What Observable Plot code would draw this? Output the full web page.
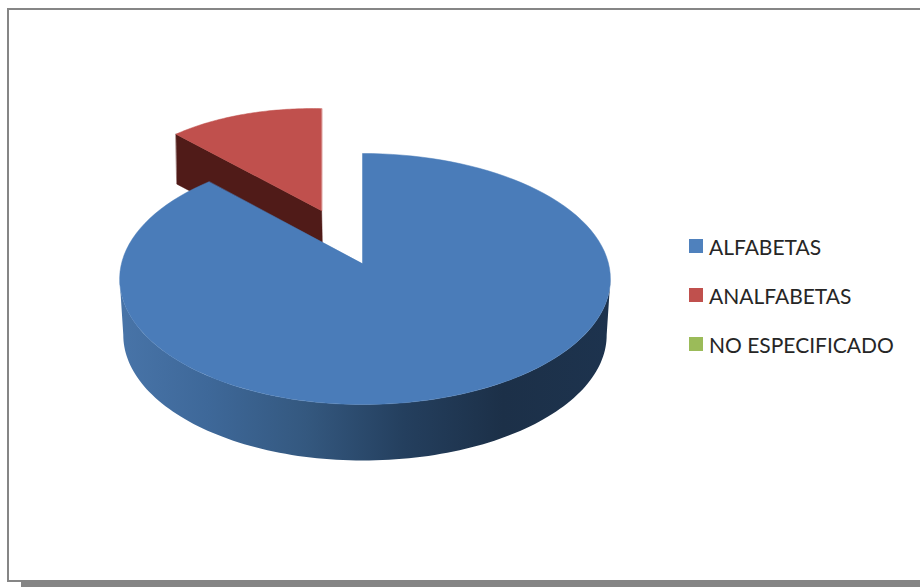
<!DOCTYPE html>
<html>
<head>
<meta charset="utf-8">
<script src="https://cdn.jsdelivr.net/npm/d3@7"></script>
<script src="https://cdn.jsdelivr.net/npm/@observablehq/plot@0.6"></script>
<style>
html,body{margin:0;padding:0;background:#fff;width:920px;height:587px;overflow:hidden}
#wrap{position:relative;width:920px;height:587px}
#wrap svg{position:absolute;left:0;top:0}
#frame{position:absolute;left:7px;top:8px;width:920px;height:570px;border-left:2px solid #868686;border-top:2px solid #868686;border-bottom:2px solid #868686;box-sizing:content-box}
#shadow{position:absolute;left:21px;top:580px;width:899px;height:7px;background:#858585}
.lg{position:absolute;left:689px;display:flex;align-items:center;font:21px Lato,sans-serif;color:#262626;height:24px;white-space:nowrap}
.lg i{display:block;width:14px;height:14px;margin-right:6px}
</style>
</head>
<body>
<div id="wrap"><div id="frame"></div><div id="shadow"></div></div>
<script>
const categories = ["ALFABETAS", "ANALFABETAS", "NO ESPECIFICADO"];
const shares = [87.8, 12.2, 0];
const colors = ["#4a7cb9", "#c0504d", "#9bbb59"];
const legendColors = ["#4f81bd", "#c0504d", "#9bbb59"];
const wallOffsets = ["0%", "18%", "38%", "58%", "78%", "100%"];
const wallColors = ["#4874a8", "#3e6899", "#34587f", "#243f5e", "#1c3048", "#1d334e"];
const legendTops = [234, 283, 332];

// perspective view of the pie's unit circle
const view = {x0: 362, y0: 263, aLeft: 241, aRight: 246, b: 123.6, k: 0.1236, depth: 56, shrink: 0.985};
// the exploded slice sits further back: its own flatter view
const redView = {x0: 359.4, y0: 256.2, a: 210, b: 102, tilt: 4.3, explode: 0.487, depth: 50};

function project(u, v, drop = 0) {
  const s = 1 / (1 - view.k * v);
  const f = drop ? view.shrink : 1;
  const a = u < 0 ? view.aLeft : view.aRight;
  return {x: view.x0 + f * a * u * s, y: view.y0 + view.b * v * s + drop};
}
const unit = deg => { const t = deg * Math.PI / 180; return [Math.sin(t), -Math.cos(t)]; };
const rim = (deg, drop = 0) => { const [u, v] = unit(deg); return project(u, v, drop); };
const total = d3.sum(shares);
const startEnd = [];
shares.reduce((acc, s) => { const e = acc + s / total * 360; startEnd.push([acc, e]); return e; }, 0);
const arc = (a0, a1, drop) => d3.range(0, 121).map(i => rim(a0 + (a1 - a0) * i / 120, drop));

// blue slice
const [b0, b1] = startEnd[0];
const blueTop = [project(0, 0), ...arc(b0, b1, 0)];
const wall = [...arc(97, 263, 0), ...arc(263, 97, view.depth)];

// exploded red slice
const [r0, r1] = startEnd[1];
const [mu, mv] = unit((r0 + r1) / 2);
const du = redView.explode * mu, dv = redView.explode * mv;
const redPoint = (u, v) => ({
  x: redView.x0 + redView.a * (du + u),
  y: redView.y0 + redView.b * (dv + v) + redView.tilt * u
});
const redApex = redPoint(0, 0);
const redArc = d3.range(0, 61).map(i => redPoint(...unit(r0 + (r1 - r0) * i / 60)));
const redTop = [redApex, ...redArc];
const redLeft = redArc[0];
const drop = p => ({x: p.x + 1, y: p.y + redView.depth});
const redFace = [redLeft, redApex, drop(redApex), drop(redLeft)];

const poly = (pts, fill) => Plot.line(pts, {x: "x", y: "y", fill, stroke: fill, strokeWidth: 0.5, curve: "linear-closed"});

const defs = () => {
  const d = d3.create("svg:defs");
  const g = d.append("linearGradient").attr("id", "wallShade");
  wallOffsets.forEach((o, i) => g.append("stop").attr("offset", o).attr("stop-color", wallColors[i]));
  return d.node();
};

const chart = Plot.plot({
  width: 920, height: 587,
  margin: 0,
  x: {domain: [0, 920], range: [0, 920], axis: null},
  y: {domain: [0, 587], range: [0, 587], axis: null},
  style: {background: "transparent"},
  marks: [
    defs,
    poly(redFace, "#501b18"),
    poly(redTop, colors[1]),
    Plot.line(wall, {x: "x", y: "y", fill: "url(#wallShade)", stroke: "none", curve: "linear-closed"}),
    poly(blueTop, colors[0])
  ]
});
const wrap = document.getElementById("wrap");
wrap.appendChild(chart);
categories.forEach((c, i) => {
  const row = document.createElement("div");
  row.className = "lg";
  row.style.top = legendTops[i] + "px";
  const sw = document.createElement("i");
  sw.style.background = legendColors[i];
  row.appendChild(sw);
  row.appendChild(document.createTextNode(c));
  wrap.appendChild(row);
});
</script>
</body>
</html>
